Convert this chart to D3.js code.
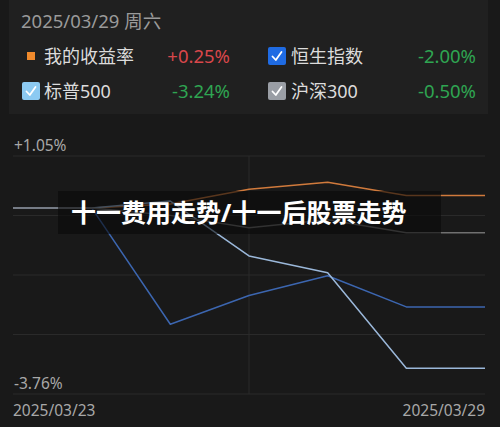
<!DOCTYPE html>
<html>
<head>
<meta charset="utf-8">
<script src="https://cdn.jsdelivr.net/npm/d3@7"></script>
<style>
  html, body { margin: 0; padding: 0; background: #191919; }
  svg { display: block; font-family: "Noto Sans", "Noto Sans CJK SC", sans-serif; }
</style>
</head>
<body>
<div id="chart"></div>
<script>
// values (% change from 03/23)
const dates = ['2025/03/23', '2025/03/24', '2025/03/25', '2025/03/26', '2025/03/27', '2025/03/28', '2025/03/29'];
const myReturn = [0, 0, 0.08, 0.38, 0.52, 0.25, 0.25];
const hsi = [0, 0, -2.35, -1.77, -1.37, -2.00, -2.00];
const sp500 = [0, 0, 0.14, -0.97, -1.31, -3.24, -3.24];
const csi300 = [0, 0, -0.15, -0.40, -0.24, -0.50, -0.50];

const yMax = 1.05;
const yMin = -3.76;
const headerDate = '2025/03/29 周六';
const title = '十一费用走势/十一后股票走势';

const series = [
  { name: '我的收益率', values: myReturn, color: '#d07a3c', box: 'square' },
  { name: '恒生指数', values: hsi, color: '#3c66b0', box: '#1f6be3' },
  { name: '标普500', values: sp500, color: '#9bb8da', box: '#8ccaf2' },
  { name: '沪深300', values: csi300, color: '#707070', box: '#9a9ea5' }
];

const width = 500, height = 427;

const svg = d3.select('#chart').append('svg')
  .attr('width', width)
  .attr('height', height);

svg.append('rect').attr('width', width).attr('height', height).attr('fill', '#191919');

// header panel
svg.append('rect')
  .attr('x', 9).attr('y', 0)
  .attr('width', 479).attr('height', 114)
  .attr('fill', '#202020');

svg.append('text')
  .attr('x', 21).attr('y', 28)
  .attr('fill', '#9a9a9a')
  .style('font-size', '18.5px')
  .text(headerDate);

const fmt = v => (v > 0 ? '+' : '') + v.toFixed(2) + '%';
const legendPos = [[0, 0], [1, 0], [0, 1], [1, 1]];

series.forEach((s, i) => {
  const col = legendPos[i][0], row = legendPos[i][1];
  const bx = col ? 268 : 22;
  const cy = row ? 91 : 56;
  const g = svg.append('g');
  if (s.box === 'square') {
    g.append('rect').attr('x', 27).attr('y', cy - 4).attr('width', 8).attr('height', 8).attr('fill', '#f08a2c');
  } else {
    g.append('rect').attr('x', bx).attr('y', cy - 9).attr('width', 18).attr('height', 18)
      .attr('rx', 2).attr('fill', s.box);
    g.append('path')
      .attr('d', `M${bx + 4.5},${cy + 0.5} L${bx + 7.8},${cy + 4} L${bx + 13.5},${cy - 4}`)
      .attr('fill', 'none').attr('stroke', '#fff').attr('stroke-width', 1.8)
      .attr('stroke-linecap', 'round').attr('stroke-linejoin', 'round');
  }
  g.append('text')
    .attr('x', col ? 291 : 44).attr('y', cy + 6.5)
    .attr('fill', '#dcdcdc')
    .style('font-size', '18px')
    .text(s.name);
  const last = s.values[s.values.length - 1];
  g.append('text')
    .attr('x', col ? 476 : 230).attr('y', cy + 6.5)
    .attr('text-anchor', 'end')
    .attr('fill', last >= 0 ? '#d9474b' : '#2fa552')
    .style('font-size', '18.5px')
    .text(fmt(last));
});

// chart
const x = d3.scalePoint().domain(dates).range([13, 485]);
const y = d3.scaleLinear().domain([yMin, yMax]).range([394, 156]);

const gridTicks = d3.range(5).map(i => yMin + i * (yMax - yMin) / 4);

svg.append('g')
  .selectAll('line')
  .data(gridTicks)
  .enter().append('line')
  .attr('x1', 13).attr('x2', 485)
  .attr('y1', d => y(d)).attr('y2', d => y(d))
  .attr('stroke', '#2a2a2a').attr('stroke-width', 1);

svg.append('line')
  .attr('x1', x(dates[3])).attr('x2', x(dates[3]))
  .attr('y1', y(yMax)).attr('y2', y(yMin))
  .attr('stroke', '#2a2a2a').attr('stroke-width', 1);

svg.append('text')
  .attr('x', 14).attr('y', y(yMax) - 5)
  .attr('fill', '#a8a8a8').style('font-size', '15.5px')
  .text(fmt(yMax));

svg.append('text')
  .attr('x', 14).attr('y', y(yMin) - 5)
  .attr('fill', '#a8a8a8').style('font-size', '15.5px')
  .text(fmt(yMin));

svg.append('text')
  .attr('x', x(dates[0])).attr('y', 416)
  .attr('fill', '#a8a8a8').style('font-size', '15.5px')
  .text(dates[0]);

svg.append('text')
  .attr('x', x(dates[dates.length - 1])).attr('y', 416)
  .attr('text-anchor', 'end')
  .attr('fill', '#a8a8a8').style('font-size', '15.5px')
  .text(dates[dates.length - 1]);

const line = d3.line()
  .x((d, i) => x(dates[i]))
  .y(d => y(d));

// draw order: orange, blue, light blue, gray on top
[0, 1, 2, 3].forEach(i => {
  svg.append('path')
    .datum(series[i].values)
    .attr('d', line)
    .attr('fill', 'none')
    .attr('stroke', series[i].color)
    .attr('stroke-width', 1.5)
    .attr('stroke-linejoin', 'round');
});

// overlay banner
svg.append('rect')
  .attr('x', 58).attr('y', 191)
  .attr('width', 383).attr('height', 43)
  .attr('fill', 'rgba(8,8,8,0.6)');

svg.append('text')
  .attr('x', 71).attr('y', 222)
  .attr('fill', '#ffffff')
  .style('font-size', '25px')
  .style('font-weight', 'bold')
  .text(title);
</script>
</body>
</html>
